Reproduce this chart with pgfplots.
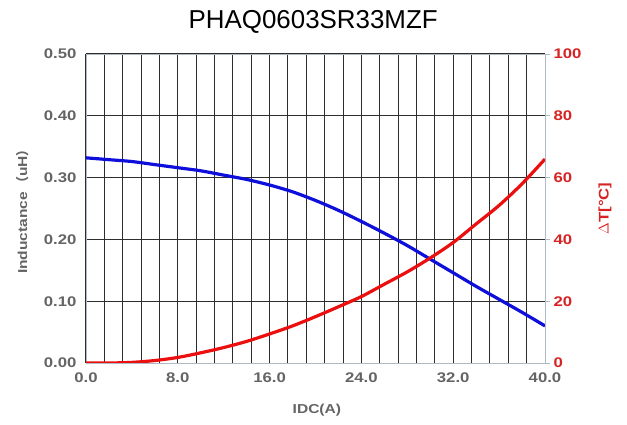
\documentclass[border=0pt]{standalone}
\usepackage{pgfplots}
\pgfplotsset{compat=1.18}
\usepackage{fontspec}
\setmainfont{Liberation Sans}
\newfontfamily\widefont[FakeStretch=1.2]{Liberation Sans}
\newfontfamily\cjk{Noto Sans CJK SC}
\definecolor{tickgray}{RGB}{100,100,100}
\definecolor{lblred}{RGB}{215,35,35}
\definecolor{lineblue}{RGB}{15,15,220}
\definecolor{linered}{RGB}{235,15,15}
\definecolor{gridblack}{RGB}{45,45,45}
\definecolor{boxgray}{RGB}{175,185,195}

\pgfplotstableread{
x     L
0     0.332
2     0.329
4     0.326
6     0.321
8     0.316
10    0.311
12    0.304
14    0.297
16    0.288
18    0.277
20    0.263
22    0.247
24    0.229
26    0.210
28    0.190
30    0.168
32    0.146
34    0.124
36    0.103
38    0.082
40    0.060
}\inductance

\pgfplotstableread{
x     T
0     0
2     0
4     0.2
6     0.8
8     1.8
10    3.3
12    5.0
14    7.0
16    9.4
18    12.0
20    15.0
22    18.2
24    21.5
26    25.5
28    29.5
30    34.0
32    39.0
34    45.0
36    51.0
38    58.0
40    66.0
}\temprise

\begin{document}
\begin{tikzpicture}
\pgfplotsset{
  every axis/.append style={
    scale only axis, width=459bp, height=309bp,
    xmin=0, xmax=40,
    /pgf/number format/assume math mode=true,
    tick label style={font=\widefont\fontsize{14}{16}\selectfont\bfseries},
  },
}
\begin{axis}[
  name=ax,
  ymin=0, ymax=0.5,
  axis line style={boxgray, line width=0.8bp},
  xtick={0,8,16,24,32,40},
  minor xtick={1.6,3.2,4.8,6.4,9.6,11.2,12.8,14.4,17.6,19.2,20.8,22.4,25.6,27.2,28.8,30.4,33.6,35.2,36.8,38.4},
  ytick={0,0.1,0.2,0.3,0.4,0.5},
  xtick pos=bottom, ytick pos=left,
  major tick length=0pt, minor tick length=0pt,
  grid=both,
  grid style={gridblack, line width=1bp},
  xticklabel style={tickgray, yshift=-6bp, /pgf/number format/.cd, fixed, fixed zerofill, precision=1},
  yticklabel style={tickgray, xshift=-6bp, /pgf/number format/.cd, fixed, fixed zerofill, precision=2},
  title={PHAQ0603SR33MZF},
  title style={font=\fontsize{26}{30}\selectfont, at={(axis description cs:0.495,1)}, anchor=south, yshift=11bp},
  xlabel={IDC(A)},
  xlabel style={font=\widefont\fontsize{13}{15}\selectfont\bfseries, tickgray, at={(axis description cs:0.503,-0.152)}, anchor=center},
  ylabel={Inductance\,{\cjk （}uH{\cjk ）}},
  ylabel style={font=\widefont\fontsize{13}{15}\selectfont\bfseries, tickgray, at={(axis description cs:-0.139,0.5)}, anchor=center},
]
\addplot[lineblue, line width=3.2bp, smooth] table[x=x, y=L] {\inductance};
\end{axis}
\begin{axis}[
  ymin=0, ymax=100,
  axis x line=none,
  axis y line*=right,
  axis line style={boxgray, line width=0.8bp},
  ytick={0,20,40,60,80,100},
  tick align=outside,
  major tick length=5bp,
  tick style={boxgray, line width=0.8bp},
  yticklabel style={lblred},
  ylabel={$\Delta$T[°C]},
  ylabel style={font=\widefont\fontsize{14}{16}\selectfont\bfseries, lblred, at={(axis description cs:1.131,0.5)}, anchor=center, rotate=0},
]
\addplot[linered, line width=3.2bp, smooth] table[x=x, y=T] {\temprise};
\end{axis}
\path ([xshift=-86bp,yshift=-62bp]ax.south west) rectangle ([xshift=82bp,yshift=54bp]ax.north east);
\end{tikzpicture}
\end{document}
